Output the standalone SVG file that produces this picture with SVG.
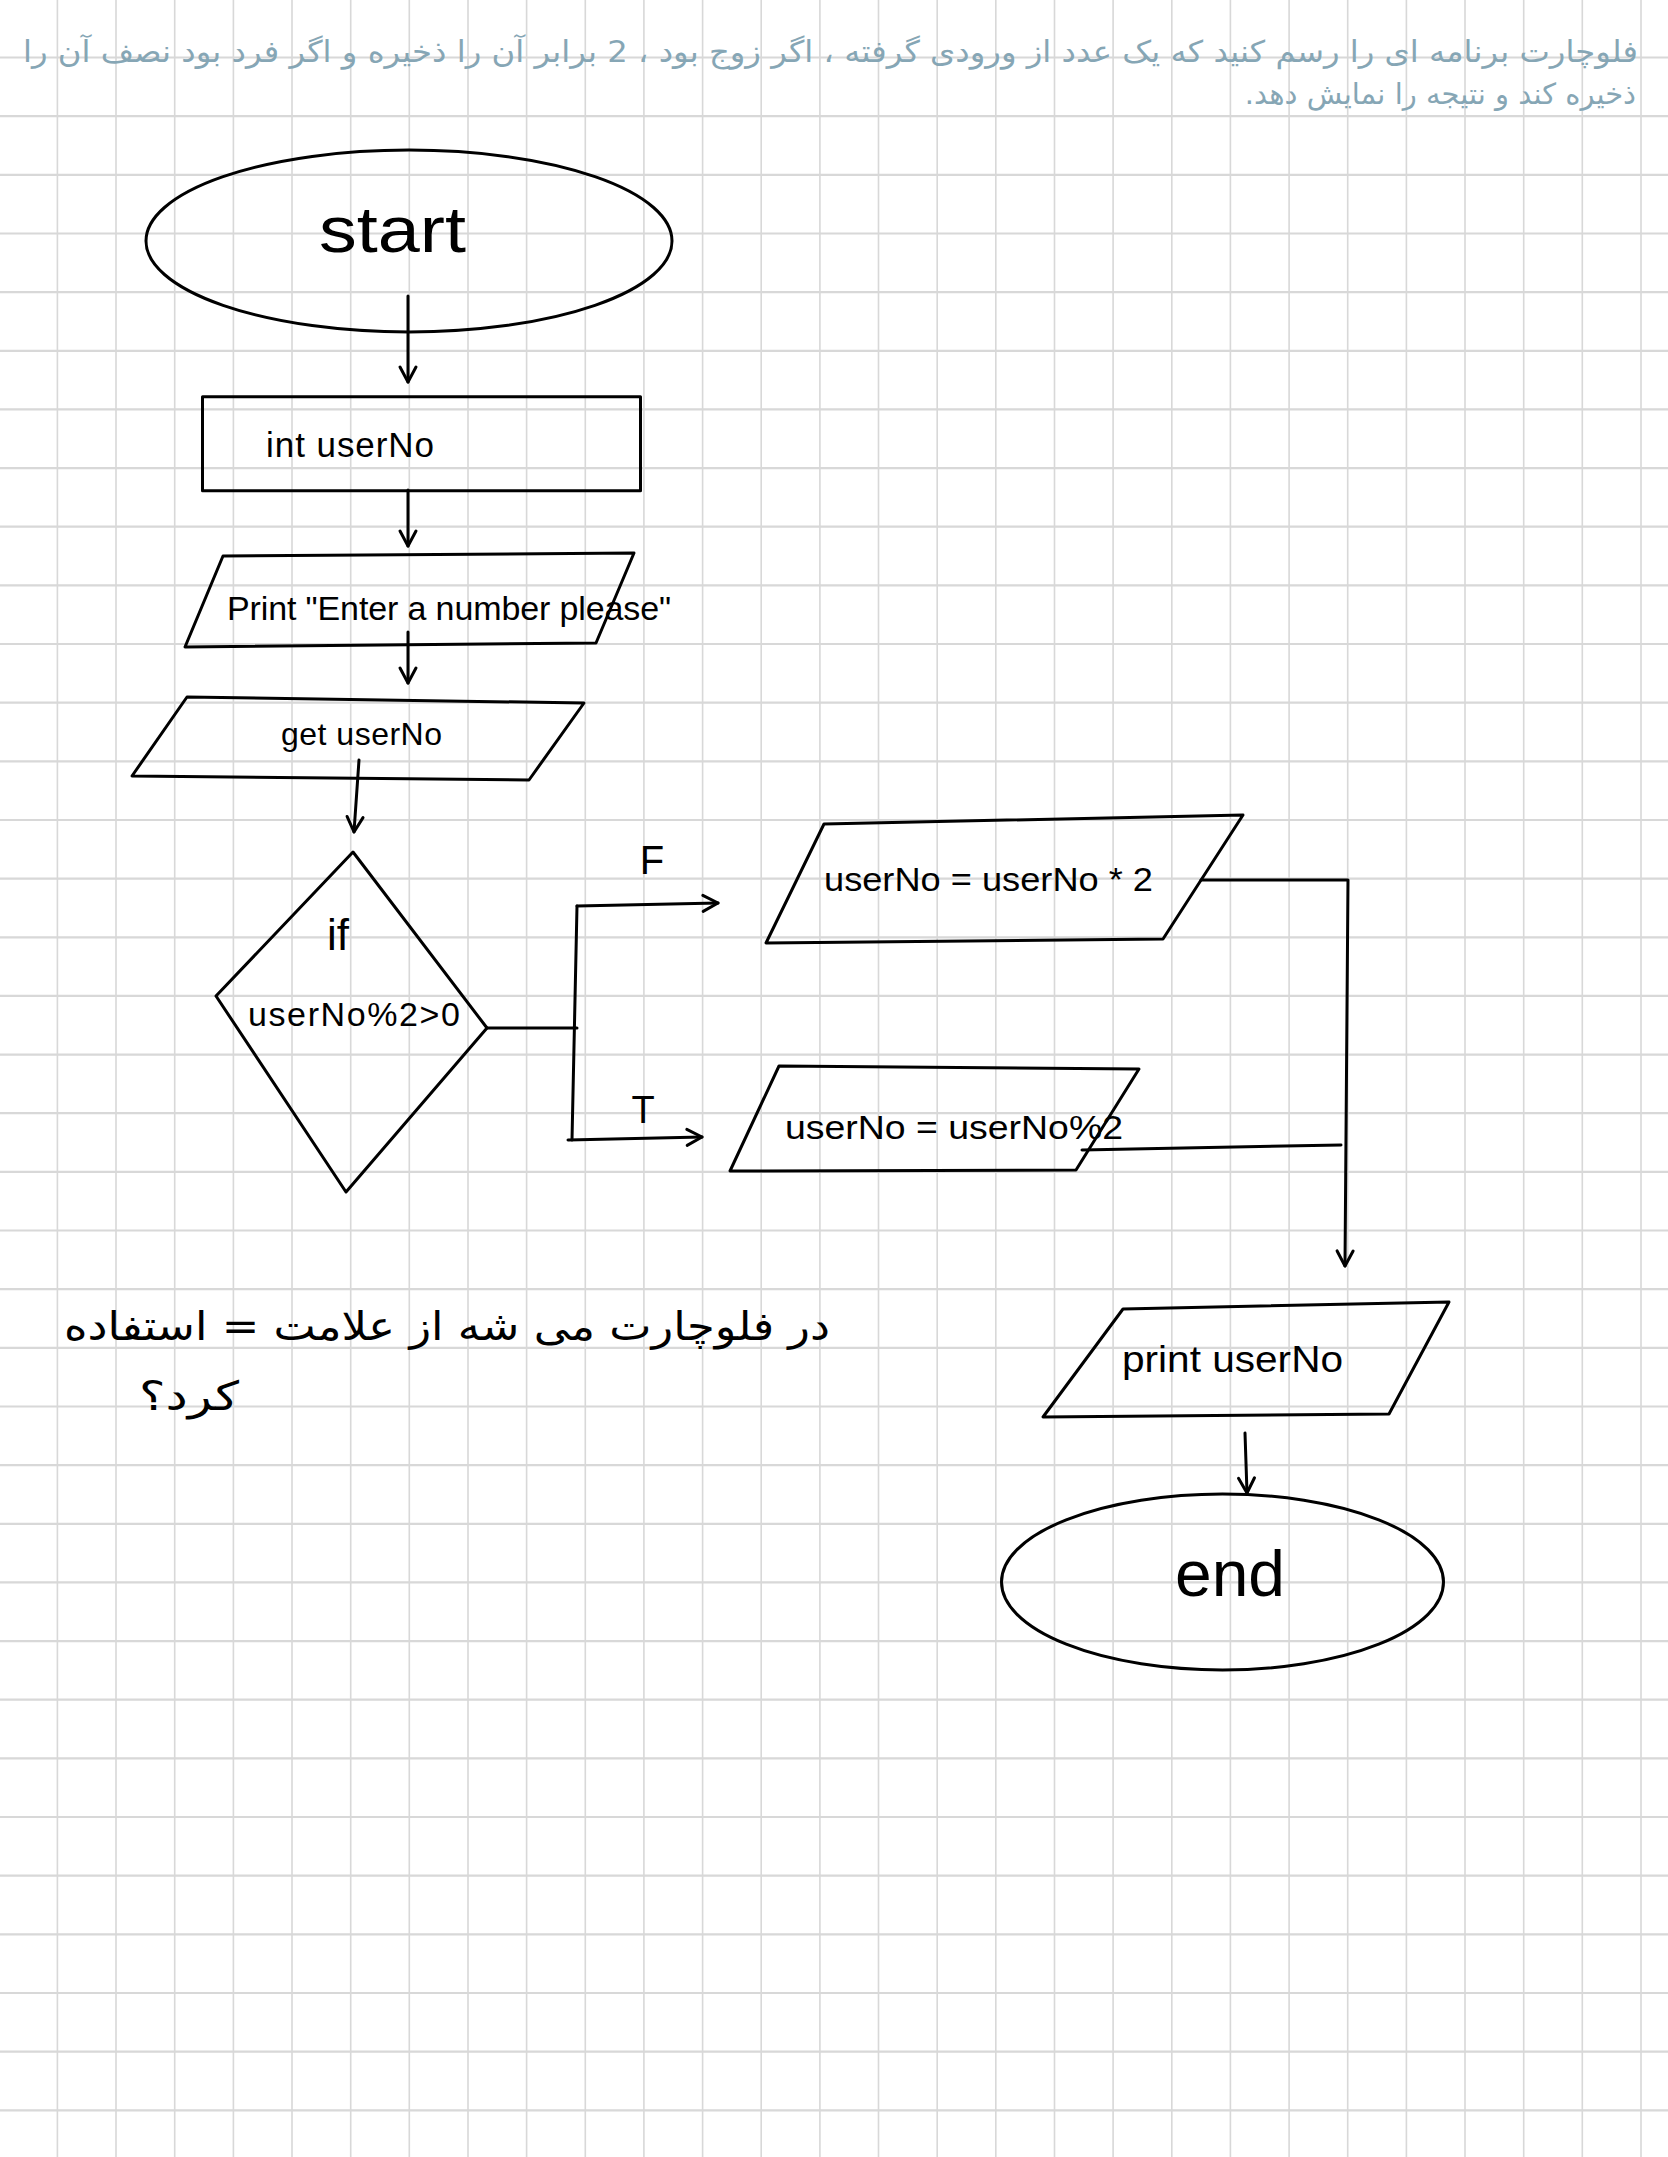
<svg xmlns="http://www.w3.org/2000/svg" width="1668" height="2157" viewBox="0 0 1668 2157">
<style>
.gv{stroke:#d8d8d8;stroke-width:1.6;fill:none}
.gh{stroke:#d8d8d8;stroke-width:2.2;fill:none}
.shape{fill:none;stroke:#000;stroke-width:3;stroke-linejoin:round}
.conn{fill:none;stroke:#000;stroke-width:3;stroke-linecap:round;stroke-linejoin:round}
.lbl{font-family:"Liberation Sans","DejaVu Sans",sans-serif;fill:#000}
.fa{font-family:"DejaVu Sans","Noto Sans",sans-serif}
.note{fill:#86a6b5}
</style>
<defs>
<marker id="arr" markerUnits="userSpaceOnUse" markerWidth="22" markerHeight="22" viewBox="0 0 22 22" refX="19" refY="11" orient="auto">
<path d="M4,3 L19,11 L4,19" fill="none" stroke="#000" stroke-width="3" stroke-linecap="round" stroke-linejoin="round"/>
</marker>
</defs>
<rect width="1668" height="2157" fill="#fff"/>
<g id="grid">
<path class="gv" d="M57.4 0V2157M116 0V2157M174.7 0V2157M233.4 0V2157M292 0V2157M350.7 0V2157M409.3 0V2157M468 0V2157M526.6 0V2157M585.3 0V2157M643.9 0V2157M702.6 0V2157M761.2 0V2157M819.9 0V2157M878.5 0V2157M937.2 0V2157M995.8 0V2157M1054.5 0V2157M1113.1 0V2157M1171.8 0V2157M1230.4 0V2157M1289.1 0V2157M1347.7 0V2157M1406.4 0V2157M1465 0V2157M1523.7 0V2157M1582.3 0V2157M1641 0V2157"/>
<path class="gh" d="M0 57.5H1668M0 116.2H1668M0 174.8H1668M0 233.5H1668M0 292.1H1668M0 350.8H1668M0 409.4H1668M0 468.1H1668M0 526.7H1668M0 585.4H1668M0 644H1668M0 702.7H1668M0 761.3H1668M0 820H1668M0 878.6H1668M0 937.3H1668M0 995.9H1668M0 1054.6H1668M0 1113.2H1668M0 1171.9H1668M0 1230.5H1668M0 1289.2H1668M0 1347.8H1668M0 1406.5H1668M0 1465.1H1668M0 1523.8H1668M0 1582.4H1668M0 1641.1H1668M0 1699.7H1668M0 1758.4H1668M0 1817H1668M0 1875.7H1668M0 1934.3H1668M0 1993H1668M0 2051.6H1668M0 2110.3H1668"/>
</g>
<g id="task-text" class="fa note">
<text x="1638" y="62" font-size="30" text-anchor="end" textLength="1615" lengthAdjust="spacingAndGlyphs">فلوچارت برنامه ای را رسم کنید که یک عدد از ورودی گرفته ، اگر زوج بود ، 2 برابر آن را ذخیره و اگر فرد بود نصف آن را</text>
<text x="1636" y="104" font-size="29" direction="rtl" text-anchor="start">ذخیره کند و نتیجه را نمایش دهد.</text>
</g>
<g id="connectors">
<path class="conn" d="M408 296 V382" marker-end="url(#arr)"/>
<path class="conn" d="M408 490 V546" marker-end="url(#arr)"/>
<path class="conn" d="M408 632 V683" marker-end="url(#arr)"/>
<path class="conn" d="M359 760 L354 832" marker-end="url(#arr)"/>
<path class="conn" d="M487 1028 H577"/>
<path class="conn" d="M577 906 L572 1140"/>
<path class="conn" d="M577 906 L718 903" marker-end="url(#arr)"/>
<path class="conn" d="M568 1140 L702 1137" marker-end="url(#arr)"/>
<path class="conn" d="M1201 880 L1348 880 L1345 1266" marker-end="url(#arr)"/>
<path class="conn" d="M1082 1150 L1341 1145"/>
<path class="conn" d="M1245 1433 L1247 1493" marker-end="url(#arr)"/>
<text class="lbl" x="652" y="874" font-size="40" text-anchor="middle">F</text>
<text class="lbl" x="643" y="1123" font-size="38" text-anchor="middle">T</text>
</g>
<g id="start">
<ellipse class="shape" cx="409" cy="241" rx="263" ry="91"/>
<text class="lbl" x="319" y="252" font-size="64" textLength="147" lengthAdjust="spacingAndGlyphs">start</text>
</g>
<g id="declare">
<rect class="shape" x="202.5" y="396.7" width="438" height="94"/>
<text class="lbl" x="266" y="457" font-size="35" textLength="168">int userNo</text>
</g>
<g id="prompt">
<polygon class="shape" points="223,556 634,553 596,643 185,647"/>
<text class="lbl" x="227" y="620" font-size="34" textLength="444">Print "Enter a number please"</text>
</g>
<g id="input">
<polygon class="shape" points="187,697 584,703 529,780 132,776"/>
<text class="lbl" x="281" y="745" font-size="32" textLength="161">get userNo</text>
</g>
<g id="decision">
<polygon class="shape" points="353,852 487,1028 346,1192 216,996"/>
<text class="lbl" x="327" y="950" font-size="44">if</text>
<text class="lbl" x="248" y="1026" font-size="34" textLength="212">userNo%2&gt;0</text>
</g>
<g id="double">
<polygon class="shape" points="824,824 1243,815 1163,939 766,943"/>
<text class="lbl" x="824" y="891" font-size="34" textLength="329" lengthAdjust="spacingAndGlyphs">userNo = userNo * 2</text>
</g>
<g id="mod">
<polygon class="shape" points="779,1066 1139,1069 1076,1170 730,1171"/>
<text class="lbl" x="785" y="1139" font-size="34" textLength="338" lengthAdjust="spacingAndGlyphs">userNo = userNo%2</text>
</g>
<g id="output">
<polygon class="shape" points="1123,1309 1449,1302 1389,1414 1043,1417"/>
<text class="lbl" x="1122" y="1372" font-size="37" textLength="221" lengthAdjust="spacingAndGlyphs">print userNo</text>
</g>
<g id="end">
<ellipse class="shape" cx="1222.5" cy="1582" rx="221" ry="88"/>
<text class="lbl" x="1175" y="1596" font-size="64" textLength="110" lengthAdjust="spacingAndGlyphs">end</text>
</g>
<g id="question" class="fa" font-size="40" fill="#000" direction="rtl">
<text x="830" y="1340" text-anchor="start" textLength="766" lengthAdjust="spacingAndGlyphs">در فلوچارت می شه از علامت = استفاده</text>
<text x="239" y="1410" text-anchor="start" textLength="100" lengthAdjust="spacingAndGlyphs">کرد؟</text>
</g>
</svg>
